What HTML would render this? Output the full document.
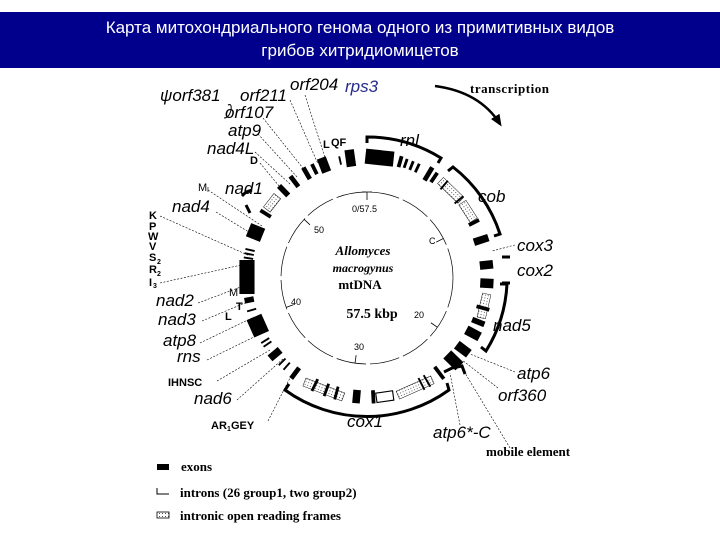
<!DOCTYPE html>
<html><head><meta charset="utf-8"><style>
html,body{margin:0;padding:0;background:#fff;}
svg{display:block;}
.s{font-family:"Liberation Sans",sans-serif;font-style:italic;font-size:17px;fill:#000;}
.b{font-family:"Liberation Sans",sans-serif;font-weight:bold;font-size:11px;fill:#000;}
.r{font-family:"Liberation Serif",serif;font-weight:bold;font-size:13px;fill:#000;}
.t{font-family:"Liberation Sans","Noto Sans CJK SC",sans-serif;font-size:17px;fill:#fff;}
</style></head><body>
<svg width="720" height="540" viewBox="0 0 720 540" xmlns="http://www.w3.org/2000/svg">
<defs>
<pattern id="st" width="3" height="3" patternUnits="userSpaceOnUse"><rect width="3" height="3" fill="#fff"/><rect width="1" height="1" fill="#555"/></pattern>
<marker id="ah" markerUnits="userSpaceOnUse" markerWidth="12" markerHeight="12" refX="9" refY="6" orient="auto"><path d="M0,1 L12,6 L0,11 z" fill="#000"/></marker>
</defs>
<rect x="0" y="12" width="720" height="56" fill="#00008c"/>
<text class="t" x="360" y="33" text-anchor="middle">Карта митохондриального генома одного из примитивных видов</text>
<text class="t" x="360" y="56" text-anchor="middle">грибов хитридиомицетов</text>

<!-- inner dashed circle -->
<circle cx="367" cy="278" r="86" fill="none" stroke="#000" stroke-width="0.7" stroke-dasharray="30 4"/>
<g stroke="#000" stroke-width="0.8">
<line x1="367" y1="192" x2="367" y2="200"/><line x1="362" y1="192" x2="372" y2="192"/>
<g transform="rotate(62.6 367 278)"><line x1="367" y1="192" x2="367" y2="200"/></g>
<g transform="rotate(125 367 278)"><line x1="367" y1="192" x2="367" y2="200"/></g>
<g transform="rotate(188 367 278)"><line x1="367" y1="192" x2="367" y2="200"/></g>
<g transform="rotate(250 367 278)"><line x1="367" y1="192" x2="367" y2="200"/></g>
<g transform="rotate(313 367 278)"><line x1="367" y1="192" x2="367" y2="200"/></g>
</g>
<g font-family="Liberation Sans,sans-serif" font-size="9" fill="#000">
<text x="352" y="212">0/57.5</text><text x="314" y="233">50</text><text x="429" y="244">C</text>
<text x="414" y="318">20</text><text x="291" y="305">40</text><text x="354" y="350">30</text>
</g>
<g font-family="Liberation Serif,serif" font-weight="bold" text-anchor="middle" fill="#000">
<text x="363" y="255" font-style="italic" font-size="13">Allomyces</text>
<text x="363" y="272" font-style="italic" font-size="12">macrogynus</text>
<text x="360" y="289" font-size="13">mtDNA</text>
<text x="372" y="318" font-size="14">57.5 kbp</text>
</g>

<!-- ring blocks -->
<g fill="#000" transform="translate(367,277) scale(0.945) translate(-367,-283)">
<rect x="362" y="147" width="10" height="18" transform="rotate(-8 367 283)"/>
<rect x="352" y="148" width="30" height="16" transform="rotate(6 367 283)"/>
<rect x="365" y="150" width="4" height="12" transform="rotate(16 367 283)"/>
<rect x="365" y="151" width="3" height="10" transform="rotate(19 367 283)"/>
<rect x="365" y="151" width="3" height="10" transform="rotate(22 367 283)"/>
<rect x="365" y="151" width="3" height="10" transform="rotate(25 367 283)"/>
<rect x="364" y="148" width="5" height="16" transform="rotate(31 367 283)"/>
<rect x="365" y="150" width="4" height="12" transform="rotate(34 367 283)"/>
<rect x="352" y="151" width="30" height="9" fill="url(#st)" stroke="#000" stroke-width="0.5" transform="rotate(44 367 283)"/>
<rect x="356" y="151" width="22" height="9" fill="url(#st)" stroke="#000" stroke-width="0.5" transform="rotate(57 367 283)"/>
<rect x="366" y="150" width="2" height="12" transform="rotate(40 367 283)"/>
<rect x="366" y="150" width="2" height="12" transform="rotate(50 367 283)"/>
<rect x="365" y="150" width="4" height="12" transform="rotate(63 367 283)"/>
<rect x="363" y="148" width="8" height="16" transform="rotate(72 367 283)"/>
<rect x="363" y="149" width="9" height="14" transform="rotate(84 367 283)"/>
<rect x="362" y="149" width="10" height="14" transform="rotate(93 367 283)"/>
<rect x="356" y="151" width="26" height="9" fill="url(#st)" stroke="#000" stroke-width="0.5" transform="rotate(103 367 283)"/>
<rect x="365" y="149" width="4" height="14" transform="rotate(105 367 283)"/>
<rect x="364" y="149" width="6" height="14" transform="rotate(112 367 283)"/>
<rect x="362" y="148" width="10" height="16" transform="rotate(118 367 283)"/>
<rect x="362" y="148" width="10" height="16" transform="rotate(127 367 283)"/>
<rect x="361" y="147" width="12" height="18" transform="rotate(134 367 283)"/>
<rect x="365" y="148" width="4" height="16" transform="rotate(143 367 283)"/>
<rect x="348" y="151" width="40" height="9" fill="url(#st)" stroke="#000" stroke-width="0.5" transform="rotate(156 367 283)"/>
<rect x="366" y="149" width="2" height="14" transform="rotate(150 367 283)"/>
<rect x="366" y="149" width="2" height="14" transform="rotate(153 367 283)"/>
<rect x="357" y="150" width="18" height="10" fill="#fff" stroke="#000" stroke-width="1.2" transform="rotate(172 367 283)"/>
<rect x="365" y="149" width="4" height="14" transform="rotate(177 367 283)"/>
<rect x="363" y="149" width="8" height="14" transform="rotate(185 367 283)"/>
<rect x="345" y="151" width="44" height="9" fill="url(#st)" stroke="#000" stroke-width="0.5" transform="rotate(201 367 283)"/>
<rect x="365" y="149" width="3" height="14" transform="rotate(195 367 283)"/>
<rect x="365" y="149" width="3" height="14" transform="rotate(200 367 283)"/>
<rect x="365" y="149" width="3" height="14" transform="rotate(206 367 283)"/>
<rect x="364" y="149" width="5" height="14" transform="rotate(217 367 283)"/>
<rect x="366" y="151" width="2" height="10" transform="rotate(222 367 283)"/>
<rect x="366" y="151" width="2" height="10" transform="rotate(225 367 283)"/>
<rect x="363" y="149" width="8" height="14" transform="rotate(230 367 283)"/>
<rect x="366" y="151" width="2" height="10" transform="rotate(236 367 283)"/>
<rect x="366" y="151" width="2" height="10" transform="rotate(238 367 283)"/>
<rect x="357" y="148" width="20" height="17" transform="rotate(246 367 283)"/>
<rect x="366" y="151" width="2" height="10" transform="rotate(254 367 283)"/>
<rect x="364" y="151" width="6" height="10" transform="rotate(259 367 283)"/>
<rect x="349" y="148" width="36" height="16" transform="rotate(270 367 283)"/>
<rect x="366" y="151" width="2" height="10" transform="rotate(279 367 283)"/>
<rect x="366" y="151" width="2" height="10" transform="rotate(281 367 283)"/>
<rect x="366" y="151" width="2" height="10" transform="rotate(283 367 283)"/>
<rect x="359" y="148" width="15" height="16" transform="rotate(292 367 283)"/>
<rect x="365" y="150" width="4" height="13" transform="rotate(302 367 283)"/>
<rect x="358" y="151" width="18" height="9" fill="url(#st)" stroke="#000" stroke-width="0.5" transform="rotate(308 367 283)"/>
<rect x="364" y="149" width="6" height="14" transform="rotate(316 367 283)"/>
<rect x="364" y="149" width="5" height="14" transform="rotate(323 367 283)"/>
<rect x="364" y="149" width="5" height="14" transform="rotate(330 367 283)"/>
<rect x="365" y="150" width="4" height="12" transform="rotate(334 367 283)"/>
<rect x="362" y="148" width="10" height="16" transform="rotate(339 367 283)"/>
<rect x="366" y="152" width="2" height="9" transform="rotate(347 367 283)"/>
</g>

<!-- brackets -->
<g fill="none" stroke="#000" stroke-width="3">
<path d="M367,143 L367,137 A140,140 0 0 1 441,158 L438,163"/>
<path d="M448,171 L453,167 A140,140 0 0 1 500,234 L494,236"/>
<path d="M502,257 L510,257"/><path d="M502,283 L510,283"/>
<path d="M500,284 L507,284 A140,140 0 0 1 486,351 L481,347"/>
<path d="M447,383 L449,390 A140,140 0 0 1 285,390 L289,384"/>
<path d="M444,372 L452,368 L462,366 L465,374"/>
<path d="M250,213 L246,205"/>
<path d="M242,196 L246,192 L252,190"/>
</g>

<!-- transcription arrow -->
<path d="M435,86 Q480,92 500,124" fill="none" stroke="#000" stroke-width="2.5" marker-end="url(#ah)"/>
<text class="r" x="470" y="93" letter-spacing="0.5">transcription</text>

<!-- leader lines -->
<g stroke="#000" stroke-width="0.6" stroke-dasharray="2 1.5" fill="none">
<line x1="290" y1="100" x2="318" y2="164"/>
<line x1="305" y1="95" x2="327" y2="164"/>
<line x1="263" y1="118" x2="306" y2="172"/>
<line x1="258" y1="134" x2="298" y2="178"/>
<line x1="255" y1="152" x2="290" y2="184"/>
<line x1="260" y1="163" x2="284" y2="192"/>
<line x1="208" y1="190" x2="262" y2="226"/>
<line x1="216" y1="212" x2="252" y2="234"/>
<line x1="160" y1="216" x2="250" y2="256"/>
<line x1="160" y1="283" x2="246" y2="264"/>
<line x1="198" y1="303" x2="246" y2="285"/>
<line x1="202" y1="321" x2="252" y2="300"/>
<line x1="200" y1="343" x2="254" y2="317"/>
<line x1="207" y1="360" x2="260" y2="334"/>
<line x1="217" y1="381" x2="270" y2="350"/>
<line x1="237" y1="400" x2="284" y2="358"/>
<line x1="268" y1="421" x2="291" y2="376"/>
<line x1="515" y1="245" x2="492" y2="251"/>
<line x1="515" y1="372" x2="470" y2="354"/>
<line x1="498" y1="388" x2="462" y2="360"/>
<line x1="460" y1="425" x2="450" y2="373"/>
<line x1="510" y1="448" x2="462" y2="368"/>
</g>

<!-- labels -->
<text class="s" x="160" y="101">ψorf381</text>
<text class="s" x="240" y="101">orf211</text>
<text class="s" x="290" y="90">orf204</text>
<text class="s" x="345" y="92" style="fill:#232a8c">rps3</text>
<path d="M228,105 Q232,103 231,110 Q229,118 224,118" fill="none" stroke="#000" stroke-width="1"/>
<text class="s" x="225" y="118">orf107</text>
<text class="s" x="228" y="136">atp9</text>
<text class="s" x="207" y="154">nad4L</text>
<text class="b" x="250" y="164">D</text>
<text class="b" x="323" y="148">L</text><text class="b" x="331" y="146">QF</text>
<text class="s" x="400" y="146">rnl</text>
<text class="b" x="198" y="191" style="font-weight:normal">M</text><text class="b" x="207" y="192" style="font-weight:normal;font-size:7px">I</text>
<text class="s" x="225" y="194">nad1</text>
<text class="s" x="172" y="212">nad4</text>
<text class="s" x="478" y="202">cob</text>
<text class="b" x="149" y="219">K</text>
<text class="b" x="149" y="230">P</text>
<text class="b" x="148" y="240">W</text>
<text class="b" x="149" y="250">V</text>
<text class="b" x="149" y="261">S</text><text class="b" x="157" y="264" style="font-size:7px">2</text>
<text class="b" x="149" y="273">R</text><text class="b" x="157" y="276" style="font-size:7px">2</text>
<text class="b" x="149" y="286">I</text><text class="b" x="153" y="288" style="font-size:7px">3</text>
<text class="s" x="517" y="251">cox3</text>
<text class="s" x="517" y="276">cox2</text>
<text class="b" x="229" y="296" style="font-weight:normal">M</text>
<text class="b" x="236" y="310">T</text>
<text class="b" x="225" y="320">L</text>
<text class="s" x="156" y="306">nad2</text>
<text class="s" x="158" y="325">nad3</text>
<text class="s" x="493" y="331">nad5</text>
<text class="s" x="163" y="346">atp8</text>
<text class="s" x="177" y="362">rns</text>
<text class="b" x="168" y="386">IHNSC</text>
<text class="s" x="517" y="379">atp6</text>
<text class="s" x="194" y="404">nad6</text>
<text class="s" x="498" y="401">orf360</text>
<text class="b" x="211" y="429">AR</text><text class="b" x="227" y="431" style="font-size:7px">1</text><text class="b" x="231" y="429">GEY</text>
<text class="s" x="347" y="427">cox1</text>
<text class="s" x="433" y="438">atp6*-C</text>
<text class="r" x="486" y="456">mobile element</text>

<!-- legend -->
<rect x="157" y="464" width="12" height="6" fill="#000"/>
<text class="r" x="181" y="471">exons</text>
<path d="M157,488 L157,494 L169,494" fill="none" stroke="#000" stroke-width="1"/>
<text class="r" x="180" y="497">introns (26 group1, two group2)</text>
<rect x="157" y="512" width="12" height="6" fill="url(#st)" stroke="#000" stroke-width="0.8"/>
<text class="r" x="180" y="520">intronic open reading frames</text>
</svg>
</body></html>
